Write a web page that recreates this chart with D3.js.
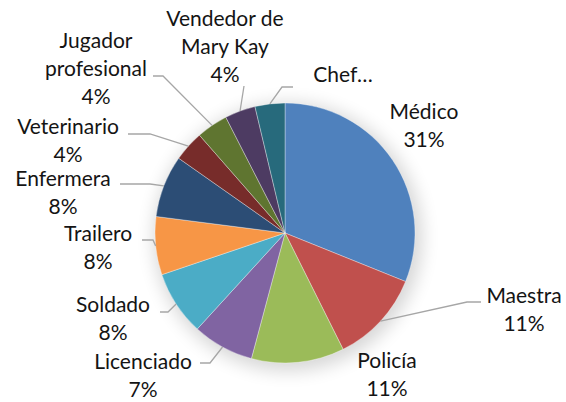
<!DOCTYPE html>
<html>
<head>
<meta charset="utf-8">
<script src="https://cdn.jsdelivr.net/npm/d3@7"></script>
<style>
  body { margin: 0; background: #fff; }
  text { font-family: Lato, "Open Sans", sans-serif; font-size: 21px; fill: #141414; }
</style>
</head>
<body>
<div class="main"></div>
<script>
// data (share of answers, clockwise from 12 o'clock)
var categories = ["Médico", "Maestra", "Policía", "Licenciado", "Soldado", "Trailero",
                  "Enfermera", "Veterinario", "Jugador profesional", "Vendedor de Mary Kay", "Chef…"];
var values = [31, 11.5, 11.5, 7.6, 8, 7.2, 7.7, 3.8, 3.9, 3.8, 3.7];
var pctLabels = ["31%", "11%", "11%", "7%", "8%", "8%", "8%", "4%", "4%", "4%", ""];
var colors = ["#4f81bd", "#c0504d", "#9bbb59", "#8064a2", "#4bacc6", "#f79646",
              "#2c4d75", "#772c2a", "#5f7530", "#4d3b62", "#276a7c"];

var W = 566, H = 402;
var cx = 285, cy = 233, R = 130;

// where each label sits: text lines (centre x, first baseline), leader start + elbow
var labelLayout = [
  { lines: ["Médico"], x: 424, y: 119, lead: null },
  { lines: ["Maestra"], x: 524, y: 303, lead: [[481, 302], [467, 302]] },
  { lines: ["Policía"], x: 387, y: 368, lead: null },
  { lines: ["Licenciado"], x: 143, y: 369, lead: [[200, 363], [210, 363]] },
  { lines: ["Soldado"], x: 113, y: 312, lead: [[160, 312], [168, 312]] },
  { lines: ["Trailero"], x: 98, y: 241, lead: [[142, 240], [153, 240]] },
  { lines: ["Enfermera"], x: 63, y: 186, lead: [[120, 184], [150, 184]] },
  { lines: ["Veterinario"], x: 68, y: 134, lead: [[128, 134], [150, 134]] },
  { lines: ["Jugador", "profesional"], x: 96, y: 48, lead: [[153, 76], [163, 76]] },
  { lines: ["Vendedor de", "Mary Kay"], x: 225, y: 26, lead: [[244, 86], [244, 86]] },
  { lines: ["Chef…"], x: 343, y: 82, lead: [[293, 87], [282, 87]] }
];
var lineGap = 28;

var svg = d3.select(".main")
  .append("svg")
    .attr("width", W)
    .attr("height", H);

var defs = svg.append("defs");
var blur = defs.append("filter")
    .attr("id", "halo")
    .attr("x", "-30%").attr("y", "-30%")
    .attr("width", "160%").attr("height", "160%");
blur.append("feGaussianBlur").attr("stdDeviation", 9);

// soft shadow round the pie
svg.append("circle")
    .attr("cx", cx + 3)
    .attr("cy", cy + 4)
    .attr("r", R + 4)
    .style("fill", "#000")
    .style("opacity", 0.16)
    .attr("filter", "url(#halo)");

var pie = d3.pie().sort(null).value(function(d) { return d; });
var arcs = pie(values);
var arc = d3.arc().innerRadius(0).outerRadius(R);

var g = svg.append("g")
    .attr("transform", "translate(" + cx + "," + cy + ")");

g.selectAll("path.slice")
  .data(arcs)
  .enter()
  .append("path")
    .attr("class", "slice")
    .attr("d", arc)
    .style("fill", function(d, i) { return colors[i]; })
    .style("stroke", "#ffffff")
    .style("stroke-opacity", 0.5)
    .style("stroke-width", 0.7);

// leader lines: from label elbow to the rim at mid angle
arcs.forEach(function(d, i) {
  var lay = labelLayout[i];
  if (!lay.lead) return;
  var mid = (d.startAngle + d.endAngle) / 2;
  var ex = cx + R * Math.sin(mid);
  var ey = cy - R * Math.cos(mid);
  var pts = [lay.lead[0], lay.lead[1], [ex, ey]];
  svg.append("path")
    .attr("d", d3.line()(pts))
    .style("fill", "none")
    .style("stroke", "#a6a6a6")
    .style("stroke-width", 1.3);
});

// labels
labelLayout.forEach(function(lay, i) {
  var lines = lay.lines.slice();
  if (pctLabels[i]) lines.push(pctLabels[i]);
  var t = svg.append("text")
    .attr("x", lay.x)
    .attr("y", lay.y)
    .style("text-anchor", "middle");
  lines.forEach(function(s, k) {
    t.append("tspan")
      .attr("x", lay.x)
      .attr("dy", k === 0 ? 0 : lineGap)
      .text(s);
  });
});
</script>
</body>
</html>
